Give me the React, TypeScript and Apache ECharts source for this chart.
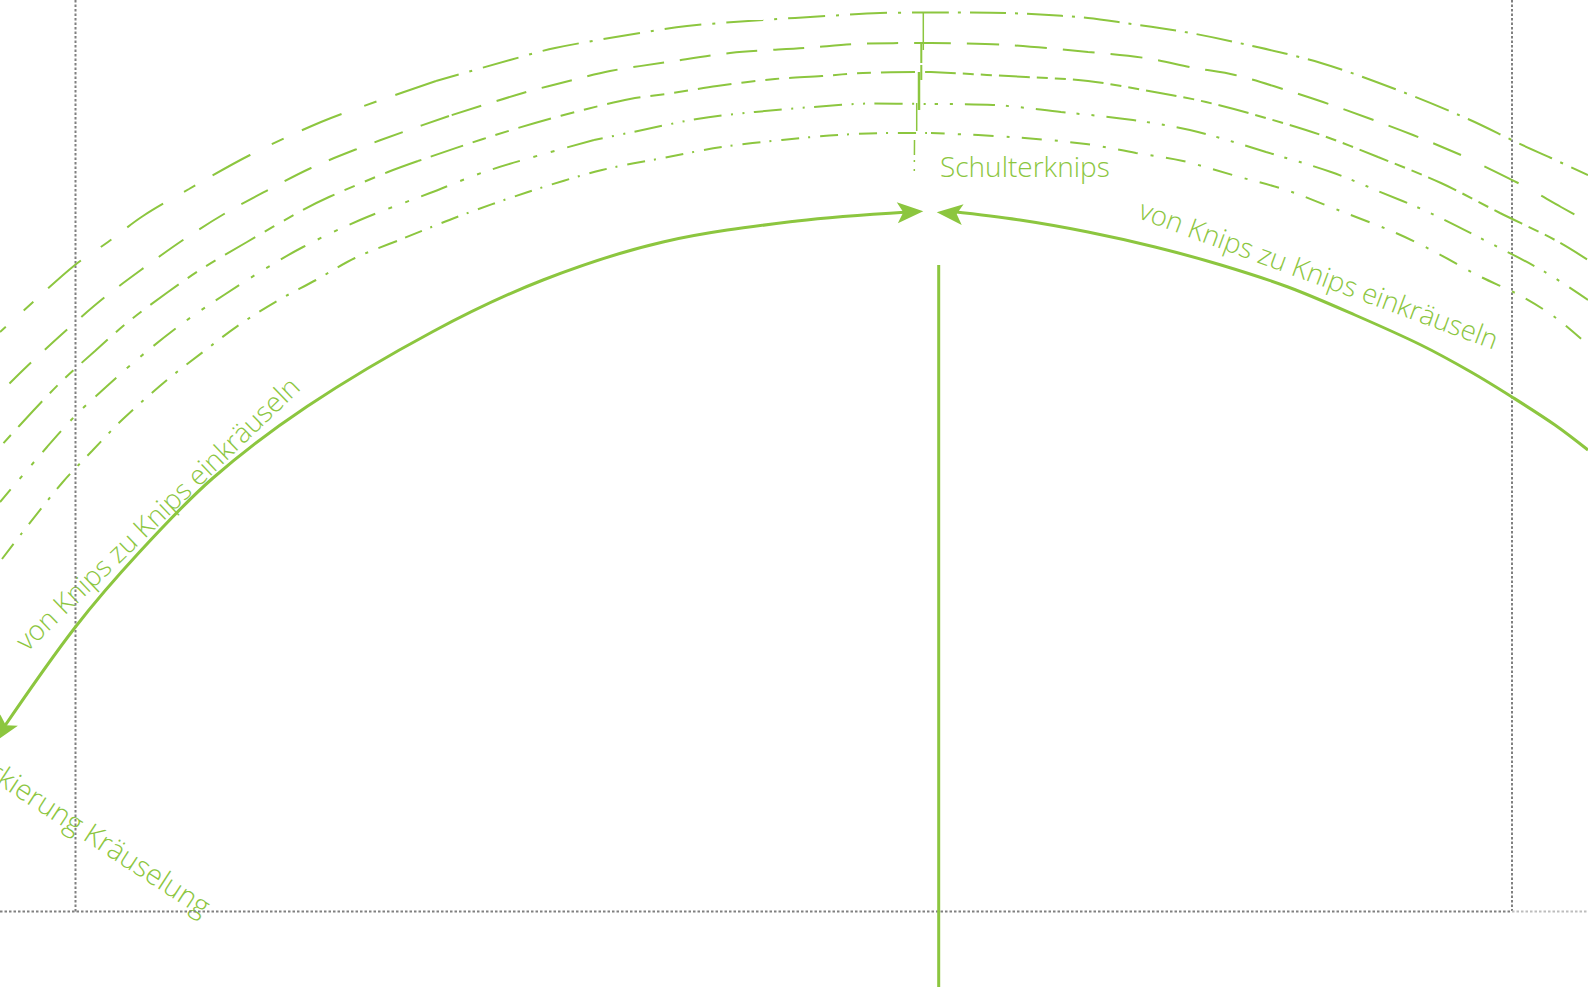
import React, { useEffect, useRef } from "react";
import * as echarts from "echarts";

const GREEN = "#8cc63f";
const GREY = "#808080";

const topFar = [[0,332],[32,303],[75,265],[108,242],[143,216],[189,189],[250,155],[321,122],[378,101],[436,81]];
const topNear = [[436,81],[510,60],[555,48],[640,33],[687,26],[763,20],[827,16],[880,13],[931,12.5]];
const topRight = [[931,12.5],[991,12.7],[1036,14.3],[1088,18],[1125,23],[1185,32],[1248,45],[1321,63],[1395,89],[1468,119],[1518,143],[1551,158],[1588,175]];
const longFar = [[0,393],[15,378],[38,356],[71,326],[105,297],[145,267],[183,240],[224,214],[268,190],[311,168],[357,149],[403,132],[449,116]];
const longNear = [[449,116],[523,93],[573,80],[610,71],[668,62],[730,53],[805,48],[867,43.5],[931,43]];
const longRight = [[931,43],[1001,44.5],[1088,52],[1145,58],[1195,68],[1235,75],[1283,89],[1323,102],[1368,118],[1413,135],[1461,155]];
const longRightFar = [[1461,155],[1520,184],[1561,207],[1588,222]];
const midFar = [[0,447],[33,411],[63,380],[95,351],[128,322],[168,292],[203,268],[247,242],[301,211],[329,197],[388,172],[418,161]];
const midNear = [[418,161],[483,139],[535,123],[587,109],[630,99],[673,93],[717,86],[775,79],[822,76],[863,73],[931,72]];
const midRight = [[931,72],[1026,77],[1088,81],[1160,93],[1206,102],[1266,118],[1321,135],[1378,157],[1441,183],[1500,213],[1555,240],[1588,260]];
const dotsFar = [[0,502],[47,447],[77,414],[106,387],[140,357],[183,323],[224,295],[260,272],[303,247],[360,220],[430,193],[490,170],[594,140]];
const dotsNear = [[594,140],[633,132],[697,119],[755,112],[813,107],[873,103.5],[931,104]];
const dotsRight = [[931,104],[993,105],[1061,112],[1133,120],[1198,132],[1266,152],[1331,172],[1378,191],[1428,212],[1488,242],[1545,272],[1588,300]];
const lowFar = [[2,559],[22,533],[62,483],[92,451],[123,419],[167,380],[203,352],[239,325],[277,301],[316,280],[355,258],[397,241]];
const lowNear = [[397,241],[457,217],[528,192],[602,170],[663,158],[722,147],[782,140],[838,135],[895,133],[931,133]];
const lowRight = [[931,133],[1011,137],[1086,144],[1136,153],[1183,161],[1236,176],[1286,190],[1343,212],[1396,233],[1437,253],[1477,275],[1521,296],[1556,318],[1588,345]];

const curveLeft = [[2,730],[75,627.5],[140,551.5],[213,478],[307,406.5],[433,331.5],[543,280],[663,242],[797,221],[908,212]];
const curveRight = [[952,211.5],[1020,220],[1088,232],[1155,247],[1221,265],[1288,287],[1355,315],[1421,345],[1471,372],[1512,397],[1555,425],[1588,450]];
const centreLine = [[938.7,265],[938.7,987]];

const tickTop = [[923.3,12],[923.3,50]];
const tickLong = [[921.3,42],[921.3,80]];
const tickMid = [[919,72],[919,110]];
const tickDots = [[916.7,103],[916.7,133]];
const tickLow = [[914.5,140],[914.3,172]];

const guideLeft = [[75.5,0],[75.5,912]];
const guideRight = [[1512,0],[1512,911]];
const guideBase = [[0,911.5],[1512,911.5]];
const guideBaseEnd = [[1512,911.5],[1588,911.5]];

const arrowHeads = [
  { value: [910.3, 212], symbolRotate: -87 },
  { value: [949.7, 213.5], symbolRotate: 85 },
  { value: [2, 731], symbolRotate: 147 },
];

const LABEL_SHOULDER = "Schulterknips";
const LABEL_GATHER = "von Knips zu Knips einkräuseln";
const LABEL_MARK = "Markierung Kräuselung";

const FONT = '300 27.5px "Open Sans"';
const SMOOTH = 0.33;
const deg = (d: number) => (d * Math.PI) / 180;
const rev = (a: number[][]) => a.slice().reverse();

function line(data: number[][], color: string, width: number, type: any = "solid", smooth: any = false, dashOffset = 0) {
  return {
    type: "line",
    data,
    smooth,
    symbol: "none",
    silent: true,
    clip: false,
    lineStyle: { color, width, type, dashOffset, cap: "butt" },
  };
}

export default function App() {
  const ref = useRef<HTMLDivElement>(null);
  useEffect(() => {
    const chart = echarts.init(ref.current!, null, { renderer: "svg" });
    chart.setOption({
      animation: false,
      backgroundColor: "#ffffff",
      grid: { left: 0, right: 0, top: 0, bottom: 0 },
      xAxis: { type: "value", min: 0, max: 1588, show: false },
      yAxis: { type: "value", min: 0, max: 987, inverse: true, show: false },
      series: [
        line(guideLeft, GREY, 2, [2.5, 2]),
        line(guideRight, GREY, 2, [2.5, 2]),
        line(guideBase, GREY, 2, [2.5, 2]),
        line(guideBaseEnd, "#bdbdbd", 2, [2.5, 2]),
        line(rev(topFar), GREEN, 2, [43, 20, 13, 24], SMOOTH, 0),
        line(rev(topNear), GREEN, 2, [37, 11, 3, 11], SMOOTH, 18),
        line(topRight, GREEN, 2, [36, 9, 3, 9], SMOOTH, 18),
        line(rev(longFar), GREEN, 2, [30, 19], SMOOTH, 0),
        line(rev(longNear), GREEN, 2, [31, 16], SMOOTH, 14),
        line(longRight, GREEN, 2, [32, 16], SMOOTH, 12),
        line(longRightFar, GREEN, 2, [38, 26], SMOOTH, 38),
        line(rev(midFar), GREEN, 2, [35, 11, 11, 11, 11, 11], SMOOTH, 0),
        line(rev(midNear), GREEN, 2, [34, 10, 14, 10, 14, 10], SMOOTH, 76),
        line(midRight, GREEN, 2, [31, 7, 11, 7, 11, 7], SMOOTH, 6),
        line(rev(dotsFar), GREEN, 2, [28, 13, 4, 14, 4, 14], SMOOTH, 0),
        line(rev(dotsNear), GREEN, 2, [28, 9.5, 2, 9.5, 2, 9.5], SMOOTH, 31.5),
        line(dotsRight, GREEN, 2, [30, 11, 3, 12, 3, 12], SMOOTH, 37),
        line(rev(lowFar), GREEN, 2, [20, 11, 3, 11], SMOOTH, 0),
        line(rev(lowNear), GREEN, 2, [18, 10, 2, 9], SMOOTH, 24),
        line(lowRight, GREEN, 2, [20, 13, 3, 12.5], SMOOTH, 6),
        line(tickTop, GREEN, 1.5),
        line(tickLong, GREEN, 2, [21, 2]),
        line(tickMid, GREEN, 2.5),
        line(tickDots, GREEN, 1.5, [28, 3]),
        line(tickLow, GREEN, 1.5, [15, 5, 2, 7, 2]),
        line(curveLeft, GREEN, 3, "solid", SMOOTH),
        line(curveRight, GREEN, 3, "solid", SMOOTH),
        line(centreLine, GREEN, 3),
        {
          type: "scatter",
          data: arrowHeads,
          symbol: "path://M10 0 L20 26 L10 20 L0 26 Z",
          symbolSize: [21, 26],
          silent: true,
          clip: false,
          itemStyle: { color: GREEN, opacity: 1 },
        },
      ],
      graphic: [
        { type: "text", x: 940, y: 166, style: { text: LABEL_SHOULDER, font: '300 28px "Open Sans"', fill: GREEN, textAlign: "left", textVerticalAlign: "middle" } },
        { type: "text", x: 157, y: 513, rotation: deg(43.8), style: { text: LABEL_GATHER, font: FONT, fill: GREEN, textAlign: "center", textVerticalAlign: "middle" } },
        { type: "text", x: 1319, y: 274, rotation: deg(-20.3), style: { text: LABEL_GATHER, font: FONT, fill: GREEN, textAlign: "center", textVerticalAlign: "middle" } },
        { type: "text", x: 208, y: 908, rotation: deg(-33), style: { text: LABEL_MARK, font: '300 28.5px "Open Sans"', fill: GREEN, textAlign: "right", textVerticalAlign: "middle" } },
      ],
    });
    return () => chart.dispose();
  }, []);
  return <div ref={ref} style={{ position: "absolute", left: 0, top: 0, width: 1588, height: 987 }} />;
}
